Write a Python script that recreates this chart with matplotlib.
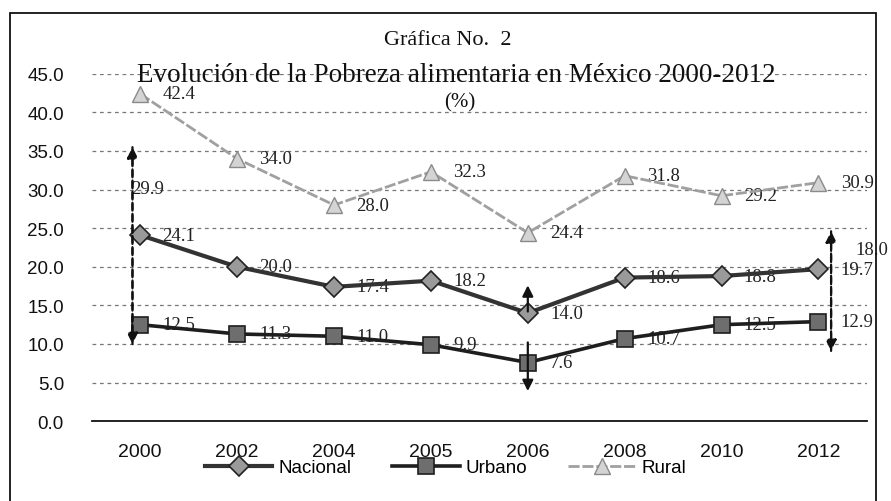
import matplotlib
matplotlib.use("Agg")
import matplotlib.pyplot as plt
from matplotlib.patches import Rectangle

# values
years = ["2000", "2002", "2004", "2005", "2006", "2008", "2010", "2012"]
nacional = [24.1, 20.0, 17.4, 18.2, 14.0, 18.6, 18.8, 19.7]
urbano = [12.5, 11.3, 11.0, 9.9, 7.6, 10.7, 12.5, 12.9]
rural = [42.4, 34.0, 28.0, 32.3, 24.4, 31.8, 29.2, 30.9]
yticks = [0, 5, 10, 15, 20, 25, 30, 35, 40, 45]

# gap arrows drawn by hand on the original: (category index, from, to)
gap_arrows = [(0, 10.0, 35.5), (4, 14.2, 17.6), (4, 10.2, 3.9), (7, 9.1, 24.6)]
gap_labels = [(0, 30.1, "29.9"), (7, 22.3, "18.0")]

SERIF = "Liberation Serif"
SANS = "Liberation Sans"

fig = plt.figure(figsize=(8.91, 5.02), dpi=100)
ax = fig.add_axes([0.103, 0.159, 0.870, 0.692])
xs = list(range(len(years)))

series = [
    ("Nacional", nacional, dict(color="#333333", lw=3.0, marker="D", ms=10,
                                mfc="#9a9a9a", mec="#222222", mew=1.2)),
    ("Urbano", urbano, dict(color="#1e1e1e", lw=2.6, marker="s", ms=11,
                            mfc="#6e6e6e", mec="#1e1e1e", mew=1.2)),
    ("Rural", rural, dict(color="#a0a0a0", lw=2.0, ls=(0, (4, 1)), marker="^", ms=11,
                          mfc="#d4d4d4", mec="#8a8a8a", mew=1.0)),
]
for name, vals, st in series:
    ax.plot(xs, vals, label=name, zorder=3, **st)
    for x, v in zip(xs, vals):
        ax.annotate(f"{v:.1f}", (x, v), xytext=(16, 0), textcoords="offset points",
                    ha="left", va="center", fontsize=13.5, family=SERIF,
                    color="#222222", zorder=2)

# dashed "gap" markers
for x, y0, y1 in gap_arrows:
    dx = {0: -0.08, 4: 0.0, 7: 0.13}[x]
    ls = "-" if x == 4 else (0, (3, 2))
    ax.annotate("", xy=(x + dx, y1), xytext=(x + dx, y0),
                arrowprops=dict(arrowstyle="-|>", color="#111111", lw=1.6,
                                linestyle=ls, mutation_scale=16,
                                shrinkA=0, shrinkB=0), zorder=4)
    if x != 4:
        ax.annotate("", xy=(x + dx, y0), xytext=(x + dx, y1),
                    arrowprops=dict(arrowstyle="-|>", color="#111111", lw=1.6,
                                    linestyle=ls, mutation_scale=16,
                                    shrinkA=0, shrinkB=0), zorder=4)
for x, y, txt in gap_labels:
    dx = -0.09 if x == 0 else 0.38
    ax.text(x + dx, y, txt, ha="left", va="center", fontsize=13.5, family=SERIF,
            color="#222222", zorder=2)

ax.set_xlim(-0.5, 7.5)
ax.set_ylim(0, 45)
ax.set_yticks(yticks)
ax.set_yticklabels([f"{t:.1f}" for t in yticks], family=SANS, fontsize=13.5)
ax.set_xticks(xs)
ax.set_xticklabels(years, family=SANS, fontsize=14)
ax.tick_params(axis="both", length=0, labelcolor="#111111")
ax.tick_params(axis="y", pad=20)
ax.tick_params(axis="x", pad=16)
for t in yticks[1:]:
    ax.axhline(t, color="#777777", lw=0.9, ls=(0, (3, 3)), zorder=1)
for side in ("left", "right", "top"):
    ax.spines[side].set_visible(False)
ax.spines["bottom"].set_color("#111111")
ax.spines["bottom"].set_linewidth(1.3)

# titles sit over the top gridlines, as in the scan
fig.text(0.502, 0.920, "Gráfica No.  2", ha="center", va="center",
         fontsize=16, family=SERIF, color="#111111")
fig.text(0.512, 0.850, "Evolución de la Pobreza alimentaria en México 2000-2012",
         ha="center", va="center", fontsize=19.5, family=SERIF, color="#111111")
fig.text(0.516, 0.795, "(%)", ha="center", va="center",
         fontsize=15, family=SERIF, color="#111111")

fig.legend(loc="center", bbox_to_anchor=(0.5, 0.066), ncol=3, frameon=False,
           handlelength=3.6, columnspacing=2.2, handletextpad=0.3,
           prop={"family": SANS, "size": 13.5})

# outer frame of the pasted chart
fig.patches.append(Rectangle((0.011, -0.05), 0.972, 1.022, transform=fig.transFigure,
                             fill=False, edgecolor="#111111", lw=1.3))

fig.savefig("out.png", dpi=100)
